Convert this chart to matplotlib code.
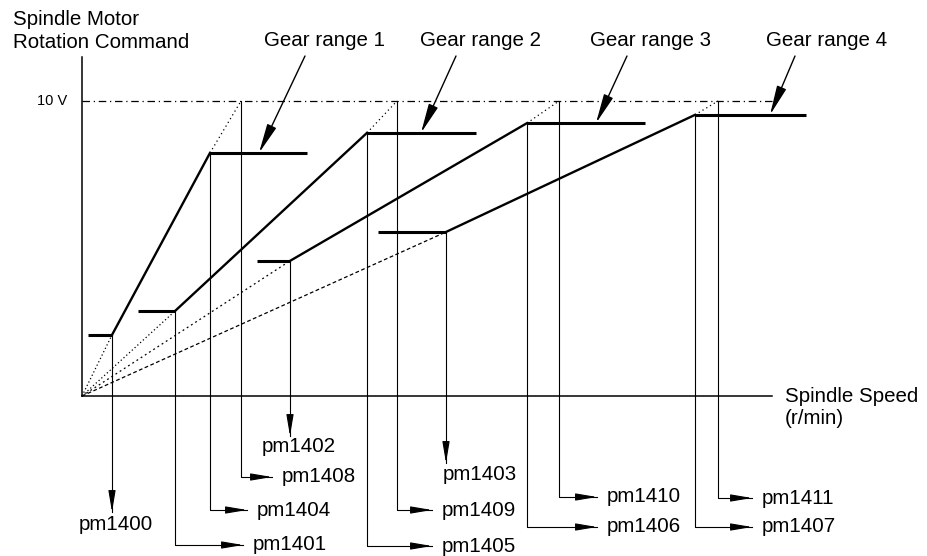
import matplotlib
matplotlib.use("Agg")
import matplotlib.pyplot as plt

plt.rcParams['font.family'] = ['Liberation Sans', 'DejaVu Sans']

# ---------------- data (speed in arbitrary r/min units, command in V) -------------
gear_ranges = ["Gear range 1", "Gear range 2", "Gear range 3", "Gear range 4"]
max_speed = [159, 315, 477, 636]          # speed reached at 10 V
low_speed = [30, 93, 208, 364]            # lower knee speed
low_volt = [2.07, 2.88, 4.58, 5.56]       # lower knee voltage
high_speed = [128, 285, 445, 613]         # upper knee speed
high_volt = [8.24, 8.92, 9.25, 9.53]      # upper knee voltage
stub_start = [6, 56, 175, 296]            # left end of lower clamp stub
plateau_end = [225, 394, 563, 724]        # right end of upper clamp plateau
v_max = 10.0
low_params = ["pm1400", "pm1401", "pm1402", "pm1403"]
high_params = ["pm1404", "pm1405", "pm1406", "pm1407"]
max_params = ["pm1408", "pm1409", "pm1410", "pm1411"]

# ---------------- layout ---------------
W, H = 927, 556
OX, OY, PPV = 82, 396, 29.5


def X(px):
    return px - OX


def Y(py):
    return (OY - py) / PPV


fig = plt.figure(figsize=(W / 100, H / 100), dpi=100)
ax = fig.add_axes([0, 0, 1, 1])
ax.set_xlim(X(0), X(W))
ax.set_ylim(Y(H), Y(0))
ax.axis('off')

K = 'black'
FS = 14.8

# axes
ax.plot([0, 0], [0, Y(57)], color=K, lw=1.1)
ax.plot([0, X(772)], [0, 0], color=K, lw=1.1)
ax.plot([0, X(777)], [v_max, v_max], color=K, lw=0.9, dashes=(6, 3, 1, 3))
ax.text(X(67), v_max, "10 V", fontsize=10.5, ha='right', va='center')
ax.text(X(13), Y(31), "Spindle Motor\nRotation Command", fontsize=FS,
        ha='left', va='center', linespacing=1.25)
ax.text(X(785), Y(407), "Spindle Speed\n(r/min)", fontsize=FS,
        ha='left', va='center', linespacing=1.2)

origin_styles = [(0, (1, 2)), (0, (1, 2)), (0, (1.5, 2.5)), (0, (3, 2))]

for i in range(4):
    # dotted line from origin to lower knee
    ax.plot([0, low_speed[i]], [0, low_volt[i]], color=K, lw=0.9,
            linestyle=origin_styles[i])
    # lower stub
    ax.plot([stub_start[i], low_speed[i]], [low_volt[i], low_volt[i]],
            color=K, lw=2.2, solid_capstyle='butt')
    # main solid slope
    ax.plot([low_speed[i], high_speed[i]], [low_volt[i], high_volt[i]],
            color=K, lw=1.7)
    # upper plateau
    ax.plot([high_speed[i], plateau_end[i]], [high_volt[i], high_volt[i]],
            color=K, lw=2.2, solid_capstyle='butt')
    # dotted extension to 10 V
    ax.plot([high_speed[i], max_speed[i]], [high_volt[i], v_max], color=K,
            lw=0.9, linestyle=(0, (1, 2.5)))

AP = dict(arrowstyle='-|>,head_length=1.3,head_width=0.22', color=K, lw=0.8,
          mutation_scale=10, shrinkA=0, shrinkB=0)


def down_arrow(x, ytop, ytip, label, label_x, label_y):
    ax.plot([x, x], [ytop, Y(ytip + 0)], color=K, lw=0.8)
    ax.annotate("", xy=(x, Y(ytip)), xytext=(x, Y(ytip - 18)), arrowprops=AP)
    ax.text(X(label_x), Y(label_y), label, fontsize=FS, ha='center',
            va='center')


def elbow_arrow(x, ytop, yrow, xtip, label):
    ax.plot([x, x, X(xtip)], [ytop, Y(yrow), Y(yrow)], color=K, lw=0.8)
    ax.annotate("", xy=(X(xtip), Y(yrow)), xytext=(X(xtip - 18), Y(yrow)),
                arrowprops=AP)
    ax.text(X(xtip + 10), Y(yrow), label, fontsize=FS, ha='left', va='center')


# lower knee parameters
down_arrow(low_speed[0], low_volt[0], 512, low_params[0], 116, 525)
elbow_arrow(low_speed[1], low_volt[1], 545, 243, low_params[1])
down_arrow(low_speed[2], low_volt[2], 436, low_params[2], 299, 446)
down_arrow(low_speed[3], low_volt[3], 463, low_params[3], 480, 474)

# upper knee parameters
high_rows = [510, 546, 527, 527]
high_tips = [247, 432, 597, 752]
for i in range(4):
    elbow_arrow(high_speed[i], high_volt[i], high_rows[i], high_tips[i],
                high_params[i])

# max speed parameters
max_rows = [477, 510, 497, 498]
max_tips = [272, 432, 597, 752]
for i in range(4):
    elbow_arrow(max_speed[i], v_max, max_rows[i], max_tips[i], max_params[i])

# gear range labels with arrows
label_x = [325, 481, 651, 827]
arrow_start = [305, 456, 627, 795]
arrow_tip_x = [259, 421, 596, 770]
AP2 = dict(arrowstyle='-|>,head_length=1.8,head_width=0.3', color=K, lw=1.0,
           mutation_scale=10, shrinkA=0, shrinkB=0)
for i in range(4):
    ax.text(X(label_x[i]), Y(40), gear_ranges[i], fontsize=FS, ha='center',
            va='center')
    ax.annotate("", xy=(X(arrow_tip_x[i]), high_volt[i]),
                xytext=(X(arrow_start[i]), Y(56)), arrowprops=AP2)

fig.savefig("out.png", dpi=100, facecolor='white')
